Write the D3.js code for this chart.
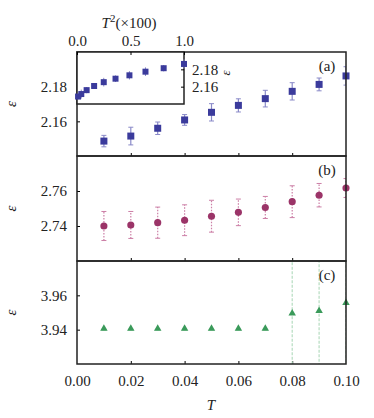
<!DOCTYPE html>
<html>
<head>
<meta charset="utf-8">
<script src="https://cdn.jsdelivr.net/npm/d3@7"></script>
<style>
  body { margin: 0; background: #fff; }
  svg text { font-family: "Liberation Serif", "DejaVu Serif", serif; fill: #222; }
</style>
</head>
<body>
<div id="chart"></div>
<script>
var T = [0.01, 0.02, 0.03, 0.04, 0.05, 0.06, 0.07, 0.08, 0.09, 0.10];
var epsA = [2.1486, 2.1515, 2.1560, 2.1608, 2.1652, 2.1692, 2.1731, 2.1773, 2.1813, 2.1862];
var errA = [0.0033, 0.0051, 0.0036, 0.0031, 0.0050, 0.0038, 0.0048, 0.0050, 0.0037, 0.0053];
var epsB = [2.7400, 2.7406, 2.7419, 2.7433, 2.7456, 2.7478, 2.7506, 2.7539, 2.7576, 2.7617];
var errB = [0.0083, 0.0077, 0.0089, 0.0088, 0.0091, 0.0076, 0.0063, 0.0091, 0.0067, 0.0054];
var epsC = [3.940, 3.940, 3.940, 3.940, 3.940, 3.940, 3.940, 3.9489, 3.9504, 3.9551];
var errC = [0.0003, 0.0003, 0.0003, 0.0003, 0.0003, 0.0003, 0.0003, 0.05, 0.05, 0.05];
var xTicks = [0, 0.02, 0.04, 0.06, 0.08, 0.10];
var insetTicks = [0, 0.5, 1.0];

var svgWidth = 374, svgHeight = 418;
var left = 77, right = 346;

var svg = d3.select("#chart").append("svg")
  .attr("width", svgWidth)
  .attr("height", svgHeight);

var x = d3.scaleLinear().domain([0, 0.1]).range([left, right]);

var panels = [
  { y: d3.scaleLinear().domain([2.14, 2.20]).range([156, 52]), vals: epsA, errs: errA,
    ticks: [2.16, 2.18], label: "(a)", color: "#3b3b9c", errColor: "#8a8ac8", dash: null, shape: "square" },
  { y: d3.scaleLinear().domain([2.72, 2.78]).range([261, 156]), vals: epsB, errs: errB,
    ticks: [2.74, 2.76], label: "(b)", color: "#9b3468", errColor: "#cc7fa6", dash: "1.5,1.5", shape: "circle" },
  { y: d3.scaleLinear().domain([3.92, 3.98]).range([364, 261]), vals: epsC, errs: errC,
    ticks: [3.94, 3.96], label: "(c)", color: "#3a9a5a", errColor: "#b5dcc0", dash: "3,1.5", shape: "triangle" }
];

var symbols = {
  square: d3.symbol().type(d3.symbolSquare).size(49),
  circle: d3.symbol().type(d3.symbolCircle).size(40),
  triangle: d3.symbol().type(d3.symbolTriangle).size(24)
};

panels.forEach(function(p, i) {
  var g = svg.append("g");
  var top = p.y.range()[1], bottom = p.y.range()[0];
  var clipId = "clip" + i;
  svg.append("clipPath").attr("id", clipId)
    .append("rect").attr("x", left).attr("y", top).attr("width", right - left).attr("height", bottom - top);

  // left axis, inward ticks
  var ax = g.append("g")
    .attr("transform", `translate(${left},0)`)
    .call(d3.axisLeft(p.y).tickValues(p.ticks).tickSize(-3).tickPadding(10).tickFormat(d3.format(".2f")));
  ax.select(".domain").remove();
  ax.selectAll("text").attr("font-size", "15px");

  // bottom ticks pointing up
  var bx = g.append("g")
    .attr("transform", `translate(0,${bottom})`)
    .call(d3.axisBottom(x).tickValues(xTicks.slice(1, -1)).tickSize(-3).tickFormat(""));
  bx.select(".domain").remove();

  var data = T.map(function(t, j) { return { t: t, v: p.vals[j], e: p.errs[j] }; });
  var pts = g.append("g").attr("clip-path", `url(#${clipId})`);

  pts.selectAll("line.err").data(data).enter().append("line")
    .attr("x1", d => x(d.t)).attr("x2", d => x(d.t))
    .attr("y1", d => p.y(d.v - d.e)).attr("y2", d => p.y(d.v + d.e))
    .attr("stroke", p.errColor).attr("stroke-width", 1.2)
    .attr("stroke-dasharray", p.dash);
  [-1, 1].forEach(function(s) {
    pts.selectAll(null).data(data).enter().append("line")
      .attr("x1", d => x(d.t) - 2.5).attr("x2", d => x(d.t) + 2.5)
      .attr("y1", d => p.y(d.v + s * d.e)).attr("y2", d => p.y(d.v + s * d.e))
      .attr("stroke", p.errColor).attr("stroke-width", 1);
  });

  g.selectAll("path.pt").data(data).enter().append("path")
    .attr("transform", d => `translate(${x(d.t)},${p.y(d.v) + (p.shape == "triangle" ? -1 : 0)})`)
    .attr("d", symbols[p.shape])
    .attr("fill", p.color);

  g.append("text")
    .attr("x", 327).attr("y", top + 19)
    .attr("text-anchor", "middle")
    .attr("font-size", "15px")
    .text(p.label);

  g.append("text")
    .attr("transform", `translate(16,${(top + bottom) / 2}) rotate(-90)`)
    .attr("text-anchor", "middle")
    .attr("font-size", "15px")
    .attr("font-style", "italic")
    .text("ε");
});

// frames
panels.forEach(function(p) {
  svg.append("rect")
    .attr("x", left).attr("y", p.y.range()[1])
    .attr("width", right - left).attr("height", p.y.range()[0] - p.y.range()[1])
    .attr("fill", "none").attr("stroke", "#222").attr("stroke-width", 1.5);
});

// bottom tick labels
var xa = svg.append("g")
  .attr("transform", "translate(0,364)")
  .call(d3.axisBottom(x).tickValues(xTicks).tickSize(0).tickPadding(11).tickFormat(d3.format(".2f")));
xa.select(".domain").remove();
xa.selectAll("text").attr("font-size", "15px");

svg.append("text")
  .attr("x", 211).attr("y", 410)
  .attr("text-anchor", "middle")
  .attr("font-size", "15px")
  .attr("font-style", "italic")
  .text("T");

// inset
var ix = d3.scaleLinear().domain([0, 1]).range([left, 184]);
var iy = d3.scaleLinear().domain([2.14, 2.20]).range([104, 52]);
var inset = svg.append("g");
inset.append("rect")
  .attr("x", left).attr("y", 52).attr("width", 184 - left).attr("height", 52)
  .attr("fill", "#fff").attr("stroke", "#222").attr("stroke-width", 1.5);

var insetData = T.map(function(t, j) { return { s: t * t * 100, v: epsA[j], e: errA[j] }; });
inset.selectAll("line.ierr").data(insetData).enter().append("line")
  .attr("x1", d => ix(d.s)).attr("x2", d => ix(d.s))
  .attr("y1", d => iy(d.v - d.e)).attr("y2", d => iy(d.v + d.e))
  .attr("stroke", "#8a8ac8").attr("stroke-width", 1);
inset.selectAll("path.ipt").data(insetData).enter().append("path")
  .attr("transform", d => `translate(${ix(d.s)},${iy(d.v)})`)
  .attr("d", d3.symbol().type(d3.symbolSquare).size(36))
  .attr("fill", "#3b3b9c");

var itop = inset.append("g")
  .attr("transform", "translate(0,52)")
  .call(d3.axisTop(ix).tickValues(insetTicks).tickSize(-3).tickPadding(6).tickFormat(d3.format(".1f")));
itop.select(".domain").remove();
itop.selectAll("text").attr("font-size", "15px");

var iright = inset.append("g")
  .attr("transform", "translate(184,0)")
  .call(d3.axisRight(iy).tickValues([2.16, 2.18]).tickSize(-3).tickPadding(8).tickFormat(d3.format(".2f")));
iright.select(".domain").remove();
iright.selectAll("text").attr("font-size", "15px");

var t2 = svg.append("text")
  .attr("x", 129).attr("y", 28)
  .attr("text-anchor", "middle")
  .attr("font-size", "15px");
t2.append("tspan").attr("font-style", "italic").text("T");
t2.append("tspan").attr("dy", -6).attr("font-size", "11px").text("2");
t2.append("tspan").attr("dy", 6).text("(×100)");

svg.append("text")
  .attr("transform", "translate(230,73) rotate(-90)")
  .attr("text-anchor", "middle")
  .attr("font-size", "13px")
  .attr("font-style", "italic")
  .text("ε");
</script>
</body>
</html>
